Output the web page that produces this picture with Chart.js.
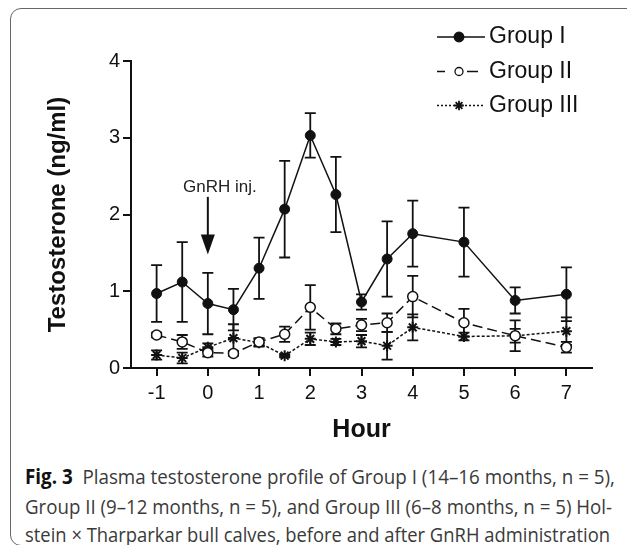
<!DOCTYPE html>
<html>
<head>
<meta charset="utf-8">
<script src="https://cdn.jsdelivr.net/npm/chart.js@4.4.0/dist/chart.umd.min.js"></script>
<style>
  body { margin: 0; width: 627px; height: 545px; overflow: hidden; background: #fff; position: relative; }
  #frame { position: absolute; left: 10px; top: 8px; width: 630px; height: 538px; border: 1.3px solid #666; border-radius: 11px; box-sizing: border-box; }
  #chart { position: absolute; left: 0; top: 0; }
  .cap { position: absolute; left: 25px; white-space: nowrap; font-family: 'Open Sans', sans-serif; font-size: 20.5px; line-height: 28px; color: #3a3a3a; transform-origin: 0 0; }
  .cap b { color: #111; font-weight: 700; }
</style>
</head>
<body>
<div id="frame"></div>
<canvas id="chart" width="627" height="445"></canvas>
<div class="cap" id="cap1" style="top:462px"><b>Fig. 3</b>&nbsp;&nbsp;Plasma testosterone profile of Group I (14–16 months, n = 5),</div>
<div class="cap" id="cap2" style="top:492px">Group II (9–12 months, n = 5), and Group III (6–8 months, n = 5) Hol-</div>
<div class="cap" id="cap3" style="top:520px">stein × Tharparkar bull calves, before and after GnRH administration</div>
<script>
// hours after GnRH injection
const hours = [-1, -0.5, 0, 0.5, 1, 1.5, 2, 2.5, 3, 3.5, 4, 5, 6, 7];
const hourTicks = [-1, 0, 1, 2, 3, 4, 5, 6, 7];
const yTicks = [0, 1, 2, 3, 4];

const seriesNames = ["Group I", "Group II", "Group III"];
const groupI     = [0.97, 1.12, 0.84, 0.76, 1.30, 2.07, 3.03, 2.26, 0.86, 1.42, 1.75, 1.64, 0.88, 0.96];
const groupIErr  = [0.37, 0.52, 0.40, 0.27, 0.40, 0.63, 0.29, 0.49, 0.10, 0.49, 0.43, 0.45, 0.17, 0.35];
const groupII    = [0.43, 0.34, 0.20, 0.19, 0.34, 0.44, 0.79, 0.51, 0.56, 0.59, 0.93, 0.59, 0.42, 0.27];
const groupIIErr = [0.03, 0.09, 0.05, 0.03, 0.05, 0.10, 0.29, 0.07, 0.08, 0.12, 0.27, 0.18, 0.20, 0.07];
const groupIII    = [0.17, 0.13, 0.27, 0.39, 0.33, 0.16, 0.38, 0.34, 0.35, 0.29, 0.53, 0.41, 0.42, 0.48];
const groupIIIErr = [0.06, 0.07, 0.05, 0.18, 0.05, 0.02, 0.08, 0.04, 0.08, 0.18, 0.17, 0.05, 0.09, 0.18];

// GnRH injection marker
const gnrhLabel = "GnRH inj.";
const gnrhHour = 0;
const gnrhArrowFrom = 2.23;
const gnrhArrowTo = 1.48;

const FONT = "'Liberation Sans', Arial, sans-serif";
const INK = "#111";

const toPoints = vals => vals.map((v, i) => ({ x: hours[i], y: v }));
const errs = [groupIErr, groupIIErr, groupIIIErr];

// error bars, drawn under the markers
const errorBars = {
  id: "errorBars",
  beforeDatasetsDraw(chart) {
    const { ctx, scales: { x, y } } = chart;
    ctx.save();
    ctx.strokeStyle = INK;
    ctx.lineWidth = 1.8;
    chart.data.datasets.forEach((ds, d) => {
      ds.data.forEach((p, i) => {
        const px = x.getPixelForValue(p.x);
        const top = y.getPixelForValue(p.y + errs[d][i]);
        const bot = y.getPixelForValue(p.y - errs[d][i]);
        ctx.beginPath();
        ctx.moveTo(px, top); ctx.lineTo(px, bot);
        ctx.moveTo(px - 5.5, top); ctx.lineTo(px + 5.5, top);
        ctx.moveTo(px - 5.5, bot); ctx.lineTo(px + 5.5, bot);
        ctx.stroke();
      });
    });
    ctx.restore();
  }
};

// arrow + legend
const extras = {
  id: "extras",
  afterDraw(chart) {
    const { ctx, scales: { x, y } } = chart;
    ctx.save();
    // arrow
    const ax = x.getPixelForValue(gnrhHour);
    const yTop = y.getPixelForValue(gnrhArrowFrom);
    const yTip = y.getPixelForValue(gnrhArrowTo);
    ctx.strokeStyle = INK;
    ctx.fillStyle = INK;
    ctx.lineWidth = 2;
    ctx.beginPath();
    ctx.moveTo(ax, yTop); ctx.lineTo(ax, yTip - 19);
    ctx.stroke();
    ctx.beginPath();
    ctx.moveTo(ax - 7, yTip - 20); ctx.lineTo(ax + 7, yTip - 20); ctx.lineTo(ax, yTip);
    ctx.closePath();
    ctx.fill();
    ctx.font = "17px " + FONT;
    ctx.fillStyle = "#222";
    ctx.textAlign = "center";
    ctx.textBaseline = "middle";
    ctx.fillText(gnrhLabel, ax + 12, yTop - 10);

    // legend
    const rows = [37, 71.5, 105.5];
    ctx.font = "23px " + FONT;
    ctx.textAlign = "left";
    chart.data.datasets.forEach((ds, d) => {
      const ry = rows[d];
      ctx.strokeStyle = INK;
      ctx.lineWidth = 1.5;
      ctx.beginPath();
      if (d === 0) {
        ctx.moveTo(437, ry); ctx.lineTo(485, ry);
      } else if (d === 1) {
        ctx.moveTo(437, ry); ctx.lineTo(445, ry);
        ctx.moveTo(467, ry); ctx.lineTo(478, ry);
      } else {
        ctx.setLineDash([2, 2]);
        ctx.moveTo(437, ry); ctx.lineTo(484, ry);
      }
      ctx.stroke();
      ctx.setLineDash([]);
      ctx.fillStyle = ds.pointBackgroundColor;
      ctx.strokeStyle = INK;
      ctx.lineWidth = d === 2 ? 1.8 : 1.3;
      if (ds.pointStyle === "circle") {
        ctx.beginPath();
        ctx.arc(459, ry, d === 1 ? 4 : 4.8, 0, Math.PI * 2);
        ctx.fill();
        ctx.stroke();
      } else {
        Chart.helpers.drawPoint(ctx, { pointStyle: ds.pointStyle, radius: 4.8, rotation: 0, borderWidth: 1.8 }, 459, ry);
      }
      ctx.fillStyle = INK;
      ctx.fillText(ds.label, 489, ry);
    });
    ctx.restore();
  }
};

new Chart(document.getElementById("chart"), {
  type: "line",
  data: {
    datasets: [
      {
        label: seriesNames[0], data: toPoints(groupI),
        borderColor: INK, borderWidth: 1.5,
        pointStyle: "circle", pointRadius: 5, pointBorderWidth: 1,
        pointBackgroundColor: INK, pointBorderColor: INK
      },
      {
        label: seriesNames[1], data: toPoints(groupII),
        borderColor: INK, borderWidth: 1.5, borderDash: [10, 5],
        pointStyle: "circle", pointRadius: 5, pointBorderWidth: 1.5,
        pointBackgroundColor: "#fff", pointBorderColor: INK
      },
      {
        label: seriesNames[2], data: toPoints(groupIII),
        borderColor: INK, borderWidth: 1.5, borderDash: [3, 2],
        pointStyle: "star", pointRadius: 5.5, pointBorderWidth: 2,
        pointBackgroundColor: INK, pointBorderColor: INK
      }
    ]
  },
  options: {
    responsive: false,
    animation: false,
    devicePixelRatio: 1,
    layout: { padding: { top: 61, right: 35, left: 0, bottom: 0 } },
    plugins: { legend: { display: false }, tooltip: { enabled: false } },
    scales: {
      x: {
        type: "linear", min: -1.5, max: 7.5,
        afterBuildTicks: s => { s.ticks = hourTicks.map(v => ({ value: v })); },
        afterFit: s => { s.height = 77; },
        grid: { drawOnChartArea: false, drawTicks: true, tickLength: 8, color: INK, lineWidth: 2 },
        border: { color: INK, width: 2 },
        ticks: { font: { family: FONT, size: 20 }, color: INK, padding: 5, maxRotation: 0, autoSkip: false },
        title: { display: true, text: "Hour", color: INK, font: { family: FONT, size: 25, weight: "bold" }, padding: { top: 0, bottom: 0 } }
      },
      y: {
        min: 0, max: 4,
        afterBuildTicks: s => { s.ticks = yTicks.map(v => ({ value: v })); },
        afterFit: s => { s.width = 131; },
        grid: { drawOnChartArea: false, drawTicks: true, tickLength: 8, color: INK, lineWidth: 2 },
        border: { color: INK, width: 2 },
        ticks: { font: { family: FONT, size: 20 }, color: INK, padding: 3 },
        title: { display: true, text: "Testosterone (ng/ml)", color: INK, font: { family: FONT, size: 24, weight: "bold" }, padding: { top: 44, bottom: 0 } }
      }
    }
  },
  plugins: [errorBars, extras]
});

// squeeze caption lines to the printed widths
const capWidths = { cap1: 590, cap2: 587, cap3: 585 };
document.fonts.ready.then(() => {
  Object.keys(capWidths).forEach(id => {
    const el = document.getElementById(id);
    const w = el.getBoundingClientRect().width;
    el.style.transform = "scaleX(" + (capWidths[id] / w) + ")";
  });
});
</script>
</body>
</html>
